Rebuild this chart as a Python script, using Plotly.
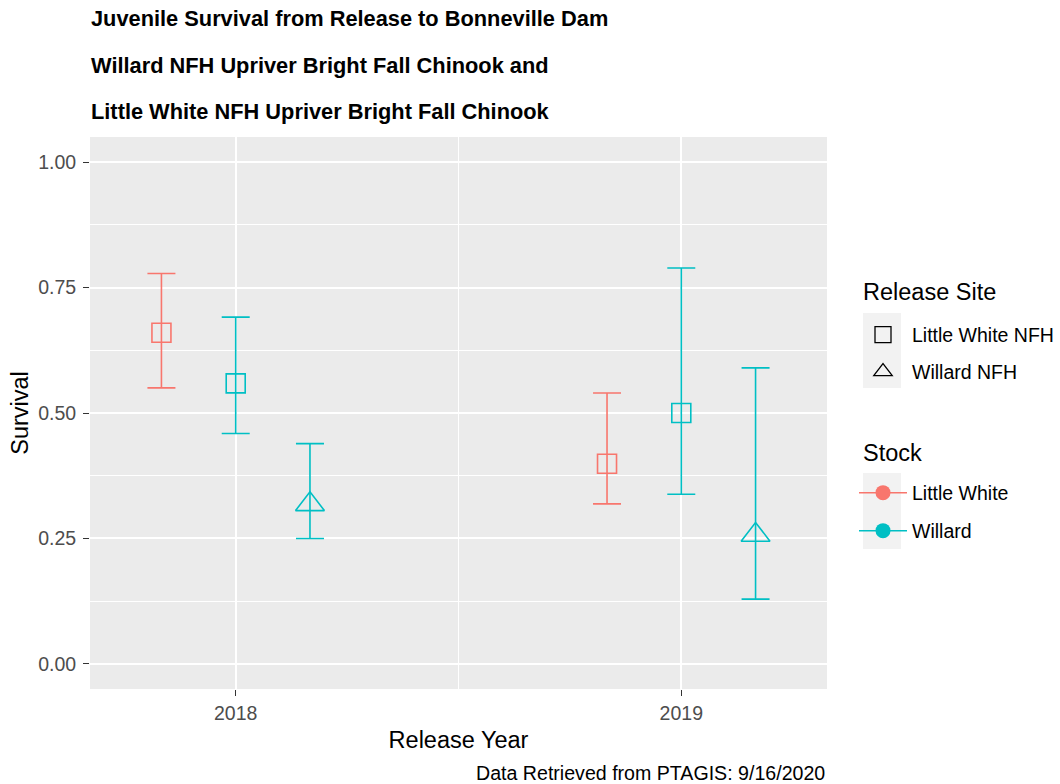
import plotly.graph_objects as go

# ---- data -------------------------------------------------------------
years = [2018, 2019]
site_names = ["Little White NFH", "Willard NFH"]
stock_names = ["Little White", "Willard"]

# Little White stock, released at Little White NFH
lw_at_lw_surv = [0.660, 0.399]
lw_at_lw_low = [0.550, 0.319]
lw_at_lw_high = [0.778, 0.540]

# Willard stock, released at Little White NFH
wi_at_lw_surv = [0.559, 0.500]
wi_at_lw_low = [0.459, 0.338]
wi_at_lw_high = [0.691, 0.789]

# Willard stock, released at Willard NFH
wi_at_wi_surv = [0.318, 0.257]
wi_at_wi_low = [0.250, 0.129]
wi_at_wi_high = [0.439, 0.590]

y_ticks = [0.0, 0.25, 0.50, 0.75, 1.0]

# ---- styling ----------------------------------------------------------
stock_colors = {"Little White": "#F8766D", "Willard": "#00BFC4"}
site_symbols = {"Little White NFH": "square-open", "Willard NFH": "triangle-up-open"}
site_sizes = {"Little White NFH": 19, "Willard NFH": 25}
FONT = "Liberation Sans, Arial, sans-serif"

W, H = 1060, 784
M_L, M_R, M_T, M_B = 90, 233, 137, 95
PW, PH = W - M_L - M_R, H - M_T - M_B


def px_x(px):
    return (px - M_L) / PW


def px_y(py):
    return (H - M_B - py) / PH


# dodge offsets for the three groups within a year
groups = [
    (lw_at_lw_surv, lw_at_lw_low, lw_at_lw_high, "Little White", "Little White NFH", -1 / 6),
    (wi_at_lw_surv, wi_at_lw_low, wi_at_lw_high, "Willard", "Little White NFH", 0.0),
    (wi_at_wi_surv, wi_at_wi_low, wi_at_wi_high, "Willard", "Willard NFH", 1 / 6),
]

fig = go.Figure()

for surv, low, high, stock, site, off in groups:
    col = stock_colors[stock]
    fig.add_trace(go.Scatter(
        x=[yr + off for yr in years],
        y=surv,
        mode="markers",
        marker=dict(symbol=site_symbols[site], size=site_sizes[site], color=col,
                    line=dict(width=1.6, color=col)),
        error_y=dict(type="data", symmetric=False,
                     array=[h - s for h, s in zip(high, surv)],
                     arrayminus=[s - l for s, l in zip(surv, low)],
                     color=col, thickness=1.6, width=14),
        showlegend=False,
        hoverinfo="x+y",
    ))

# legend entries: release site (shape) and stock (colour)
legend_ids = ["legend", "legend2", "legend3", "legend4"]
legend_rows = [335, 372, 493, 531]

fig.add_trace(go.Scatter(x=[None], y=[None], mode="markers", name=site_names[0],
                         marker=dict(symbol=site_symbols[site_names[0]], size=16, color="black",
                                     line=dict(width=1.3, color="black")),
                         legend="legend"))
fig.add_trace(go.Scatter(x=[None], y=[None], mode="markers", name=site_names[1],
                         marker=dict(symbol=site_symbols[site_names[1]], size=16, color="black",
                                     line=dict(width=1.3, color="black")),
                         legend="legend2"))
for stock, lid in zip(stock_names, ["legend3", "legend4"]):
    fig.add_trace(go.Scatter(x=[None], y=[None], mode="lines+markers", name=stock,
                             line=dict(color=stock_colors[stock], width=1.6),
                             marker=dict(symbol="circle", size=15, color=stock_colors[stock]),
                             legend=lid))

legend_common = dict(xanchor="left", yanchor="middle", bgcolor="rgba(0,0,0,0)",
                     font=dict(family=FONT, size=19.5, color="black"), itemwidth=48,
                     borderwidth=0)
layout_legends = {}
for lid, row in zip(legend_ids, legend_rows):
    layout_legends[lid] = dict(x=px_x(854), y=px_y(row), **legend_common)

grid = "white"

fig.update_layout(
    width=W, height=H,
    margin=dict(l=M_L, r=M_R, t=M_T, b=M_B, pad=0, autoexpand=False),
    paper_bgcolor="white",
    plot_bgcolor="#EBEBEB",
    font=dict(family=FONT, color="black"),
    showlegend=True,
    **layout_legends,
    xaxis=dict(
        range=[2017.673, 2019.327],
        tickvals=years, ticktext=[str(y) for y in years],
        ticks="outside", ticklen=6, tickwidth=1.1, tickcolor="#333333",
        tickfont=dict(family=FONT, size=19.5, color="#4D4D4D"),
        ticklabelstandoff=1,
        showgrid=True, gridcolor=grid, gridwidth=1.8,
        minor=dict(tickvals=[2018.5], showgrid=True, gridcolor=grid, gridwidth=0.9, ticks=""),
        zeroline=False, showline=False,
        title=dict(text="Release Year", font=dict(family=FONT, size=23.5, color="black"), standoff=8),
    ),
    yaxis=dict(
        range=[-0.05, 1.05],
        tickvals=y_ticks, tickformat=".2f",
        ticks="outside", ticklen=6, tickwidth=1.1, tickcolor="#333333",
        tickfont=dict(family=FONT, size=19.5, color="#4D4D4D"),
        ticklabelstandoff=3,
        showgrid=True, gridcolor=grid, gridwidth=1.8,
        minor=dict(tickvals=[0.125, 0.375, 0.625, 0.875], showgrid=True, gridcolor=grid,
                   gridwidth=0.9, ticks=""),
        zeroline=False, showline=False,
        title=dict(text="Survival", font=dict(family=FONT, size=23.5, color="black"), standoff=2),
    ),
)

# grey legend key backgrounds
for top, bottom in [(313, 388), (473, 549)]:
    fig.add_shape(type="rect", xref="paper", yref="paper",
                  x0=px_x(863), x1=px_x(901), y0=px_y(bottom), y1=px_y(top),
                  fillcolor="#F2F2F2", line=dict(width=0), layer="below")

# titles and caption
title_lines = [
    "Juvenile Survival from Release to Bonneville Dam",
    "Willard NFH Upriver Bright Fall Chinook and",
    "Little White NFH Upriver Bright Fall Chinook",
]
for line, row in zip(title_lines, [19, 66, 111]):
    fig.add_annotation(text="<b>%s</b>" % line, xref="paper", yref="paper",
                       x=px_x(89), y=px_y(row), xanchor="left", yanchor="middle",
                       showarrow=False, font=dict(family=FONT, size=21.8, color="black"))

for text, row in [("Release Site", 292), ("Stock", 453)]:
    fig.add_annotation(text=text, xref="paper", yref="paper",
                       x=px_x(861), y=px_y(row), xanchor="left", yanchor="middle",
                       showarrow=False, font=dict(family=FONT, size=23.5, color="black"))

fig.add_annotation(text="Data Retrieved from PTAGIS: 9/16/2020", xref="paper", yref="paper",
                   x=1.0, y=px_y(773), xanchor="right", yanchor="middle",
                   showarrow=False, font=dict(family=FONT, size=19.6, color="black"))

fig.write_html("out.html")
